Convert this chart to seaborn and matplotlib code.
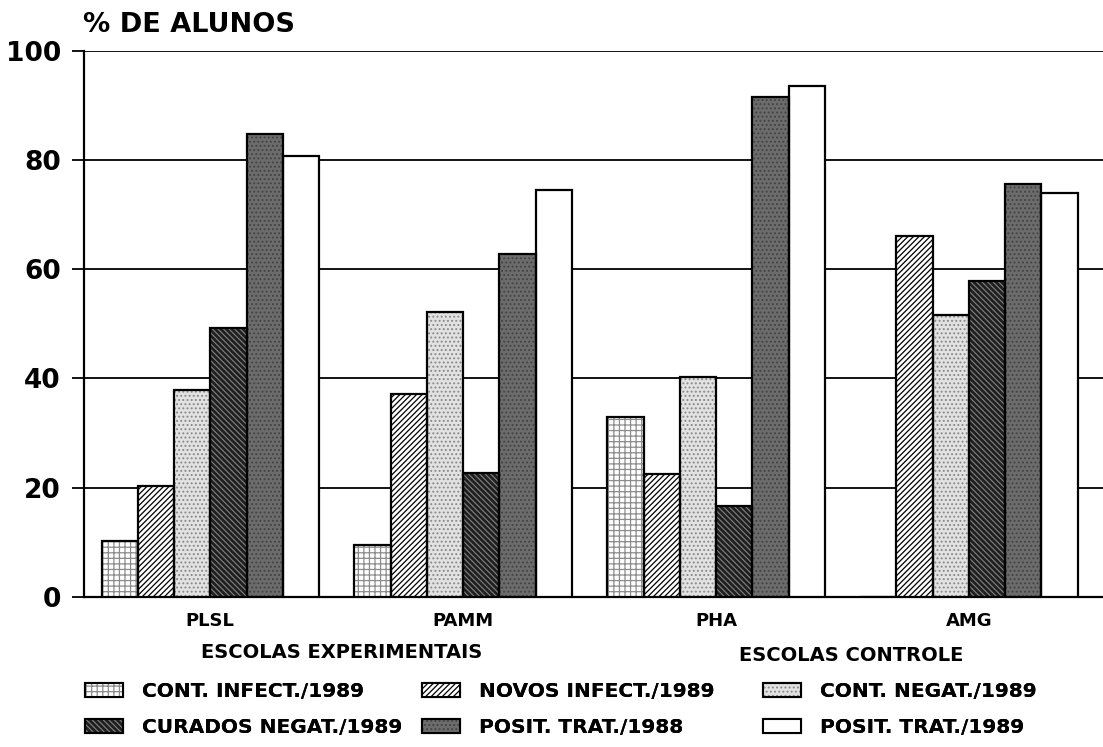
import seaborn as sns
import matplotlib.pyplot as plt
import pandas as pd

# dados (% de alunos)
escolas = ['PLSL', 'PAMM', 'PHA', 'AMG']
series = ['CONT. INFECT./1989', 'NOVOS INFECT./1989', 'CONT. NEGAT./1989',
          'CURADOS NEGAT./1989', 'POSIT. TRAT./1988', 'POSIT. TRAT./1989']
cont_infect_89 = [10.2, 9.5, 33.0, 0.0]
novos_infect_89 = [20.3, 37.2, 22.5, 66.0]
cont_negat_89 = [37.9, 52.2, 40.3, 51.6]
curados_negat_89 = [49.3, 22.7, 16.7, 57.9]
posit_trat_88 = [84.7, 62.8, 91.6, 75.6]
posit_trat_89 = [80.7, 74.5, 93.6, 74.0]

valores = [cont_infect_89, novos_infect_89, cont_negat_89,
           curados_negat_89, posit_trat_88, posit_trat_89]
df = pd.DataFrame([(e, s, v[i]) for s, v in zip(series, valores)
                   for i, e in enumerate(escolas)],
                  columns=['escola', 'serie', 'pct'])

sns.set_style('white')
plt.rcParams['font.family'] = ['DejaVu Sans']
plt.rcParams['text.color'] = 'black'
plt.rcParams['xtick.color'] = 'black'
plt.rcParams['ytick.color'] = 'black'
plt.rcParams['hatch.linewidth'] = 0.9

# fundo, hachura e cor da hachura de cada serie
estilos = [('white', '+++', '#8c8c8c'),
           ('white', '//////', 'black'),
           ('#e2e2e2', '....', '#8a8a8a'),
           ('#1e1e1e', '\\\\\\\\\\\\', '#7a7a7a'),
           ('#6c6c6c', '....', '#444444'),
           ('white', '', 'white')]

fig = plt.figure(figsize=(11.03, 7.47), dpi=100)
ax = fig.add_axes([0.076, 0.201, 0.924, 0.731])

sns.barplot(data=df, x='escola', y='pct', hue='serie', order=escolas,
            hue_order=series, width=0.86, ax=ax, legend=False, zorder=3)

handles = []
for cont, (fc, hatch, hc) in zip(ax.containers, estilos):
    for barra in cont:
        barra.set_facecolor(fc)
        barra.set_hatch(hatch)
        barra.set_edgecolor(hc)
        barra.set_linewidth(0)
        # contorno preto por cima da hachura
        ax.add_patch(plt.Rectangle(barra.get_xy(), barra.get_width(),
                                   barra.get_height(), facecolor='none',
                                   edgecolor='black', linewidth=1.6,
                                   zorder=4))
    fundo = plt.Rectangle((0, 0), 1, 1, facecolor=fc, hatch=hatch,
                          edgecolor=hc, linewidth=0)
    borda = plt.Rectangle((0, 0), 1, 1, facecolor='none',
                          edgecolor='black', linewidth=1.5)
    handles.append((fundo, borda))

ax.set_ylim(0, 100)
ax.set_xlim(-0.5, 3.53)
ax.set_yticks([0, 20, 40, 60, 80, 100])
ax.yaxis.grid(True, color='black', linewidth=1.3, zorder=0)
ax.set_axisbelow(True)
for lado in ['top', 'right']:
    ax.spines[lado].set_visible(False)
ax.spines['left'].set_linewidth(1.6)
ax.spines['bottom'].set_linewidth(1.6)
ax.spines['left'].set_color('black')
ax.spines['bottom'].set_color('black')
ax.tick_params(axis='y', direction='out', length=8.5, width=1.3,
               labelsize=19, pad=8, left=True)
ax.tick_params(axis='x', length=0, labelsize=13, pad=11)
for t in ax.get_xticklabels() + ax.get_yticklabels():
    t.set_fontweight('bold')
ax.set_xlabel('')
ax.set_ylabel('')

fig.text(0.0753, 0.9665, '% DE ALUNOS', fontsize=19.5, fontweight='bold',
         va='center', ha='left')
fig.text(0.310, 0.127, 'ESCOLAS EXPERIMENTAIS', fontsize=14,
         fontweight='bold', ha='center', va='center')
fig.text(0.772, 0.123, 'ESCOLAS CONTROLE', fontsize=14,
         fontweight='bold', ha='center', va='center')

# legenda em tres colunas, cada uma com duas linhas
colunas = [(0, 3), (1, 4), (2, 5)]
x_colunas = [0.077, 0.3826, 0.6917]
for (a, b), x0 in zip(colunas, x_colunas):
    leg = fig.legend([handles[a], handles[b]], [series[a], series[b]],
                     loc='upper left', bbox_to_anchor=(x0, 0.087),
                     frameon=False, prop={'size': 14.5, 'weight': 'bold'},
                     handlelength=1.9, handleheight=0.75, handletextpad=0.95,
                     labelspacing=0.85, borderpad=0, borderaxespad=0)
    fig.add_artist(leg)

fig.savefig('out.png', dpi=100)
